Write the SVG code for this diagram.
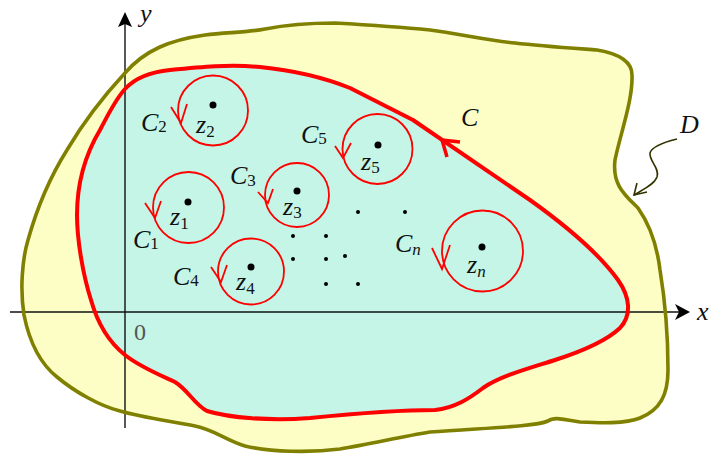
<svg xmlns="http://www.w3.org/2000/svg" xmlns:xlink="http://www.w3.org/1999/xlink" width="709" height="455" viewBox="0 0 709 455">
<style>
  .lbl { font-family: "Liberation Serif", "Times New Roman", serif; font-style: italic; font-size: 26px; fill: #111; }
  .sub { font-size: 17px; font-style: normal; }
  .subi { font-size: 17px; font-style: italic; }
  .small { fill: none; stroke: #ff0000; stroke-width: 1.8; }
  .vee { fill: none; stroke: #ff0000; stroke-width: 1.8; stroke-linejoin: miter; }
  .dot { fill: #000; }
  .axis { stroke: #111; stroke-width: 1.4; fill: none; }
</style>
<defs>
  <path id="pD" d="M 125 73 C 145 50, 170 40, 205 35 C 225 32, 245 33, 265 29 C 290 24, 310 23, 335 23 C 370 25, 400 27, 430 30 C 460 34, 490 41, 515 43 C 540 46, 570 48, 597 50 C 615 53, 632 60, 632 75 C 633 100, 620 135, 615 160 C 612 185, 625 195, 638 208 C 650 225, 657 245, 660 270 C 665 300, 668 340, 668 370 C 668 395, 660 410, 640 418 C 625 424, 600 423, 580 422 C 565 420, 555 416, 548 421 C 535 427, 480 428, 430 432 C 400 437, 370 444, 340 449 C 310 453, 270 452, 245 446 C 225 440, 215 430, 195 426 C 170 421, 140 417, 120 411 C 100 406, 75 392, 57 377 C 42 365, 30 345, 24 315 C 20 290, 22 260, 28 240 C 35 215, 45 185, 67 150 C 80 128, 100 100, 125 73 Z"/>
  <path id="pC" d="M 125 89 C 135 78, 150 72, 170 70 C 200 67, 230 64, 260 67 C 290 70, 320 76, 350 88 L 413 120 L 530 200 C 565 225, 600 255, 618 280 C 630 297, 632 315, 620 328 C 605 342, 580 352, 555 360 C 530 368, 500 376, 483 388 C 470 398, 455 408, 435 410 C 400 410, 360 413, 310 418 C 270 421, 230 418, 207 411 C 195 405, 188 390, 175 382 C 160 375, 140 367, 125 355 C 110 343, 98 325, 91 300 C 83 275, 77 240, 77 215 C 77 185, 85 155, 100 130 C 108 115, 115 100, 125 89 Z"/>
</defs>

<g id="region-D-fill"><use xlink:href="#pD" fill="#fdfdc6"/></g>
<g id="region-C-fill"><use xlink:href="#pC" fill="#c4f5e6"/></g>

<g id="axes">
  <line class="axis" x1="125" y1="428" x2="125" y2="24"/>
  <path d="M125 12 L132 27 L125 24 L118 27 Z" fill="#000"/>
  <line class="axis" x1="10" y1="312" x2="680" y2="312"/>
  <path d="M690 312 L675 320 L679 312 L675 304 Z" fill="#000"/>
  <text class="lbl" x="140" y="22">y</text>
  <text class="lbl" x="697" y="320">x</text>
  <text x="134" y="340" font-family="Liberation Serif, serif" font-size="24" fill="#555">0</text>
</g>

<g id="D">
  <use xlink:href="#pD" fill="none" stroke="#808000" stroke-width="3.6" stroke-linejoin="round"/>
  <text class="lbl" x="680" y="133">D</text>
  <path d="M 677 139 C 665 142, 652 146, 650 153 C 649 161, 660 168, 657 177 C 654 185, 642 190, 634 195" fill="none" stroke="#333300" stroke-width="1.6"/>
  <polyline points="637,183 634,195 647,192" fill="none" stroke="#333300" stroke-width="1.6"/>
</g>

<g id="C">
  <use xlink:href="#pC" fill="none" stroke="#ff0000" stroke-width="4" stroke-linejoin="round"/>
  <polyline points="460,142 442,140 447,157" fill="none" stroke="#ff0000" stroke-width="3.5" stroke-linejoin="miter"/>
  <text class="lbl" x="461" y="126">C</text>
</g>

<g id="C1">
  <circle class="small" cx="188.5" cy="207.5" r="35.5"/>
  <polyline class="vee" points="145,203 155,218 161,201"/>
  <circle class="dot" cx="188" cy="202" r="3.5"/>
  <text class="lbl" x="170" y="225">z<tspan class="sub" dy="4">1</tspan></text>
  <text class="lbl" x="133" y="248">C<tspan class="sub" dy="1">1</tspan></text>
</g>

<g id="C2">
  <circle class="small" cx="213" cy="110.5" r="35"/>
  <polyline class="vee" points="171,107 181,123 187,104"/>
  <circle class="dot" cx="213" cy="105" r="3.5"/>
  <text class="lbl" x="196" y="133">z<tspan class="sub" dy="4">2</tspan></text>
  <text class="lbl" x="141" y="131">C<tspan class="sub" dy="1">2</tspan></text>
</g>

<g id="C3">
  <circle class="small" cx="297" cy="195" r="32"/>
  <polyline class="vee" points="258,192 268,203 273,189"/>
  <circle class="dot" cx="297" cy="191" r="3.5"/>
  <text class="lbl" x="283" y="215">z<tspan class="sub" dy="3">3</tspan></text>
  <text class="lbl" x="230" y="184">C<tspan class="sub" dy="2">3</tspan></text>
</g>

<g id="C4">
  <circle class="small" cx="251" cy="271.5" r="33"/>
  <polyline class="vee" points="211,267 221,282 227,265"/>
  <circle class="dot" cx="251" cy="267" r="3.5"/>
  <text class="lbl" x="236" y="290">z<tspan class="sub" dy="4">4</tspan></text>
  <text class="lbl" x="173" y="285">C<tspan class="sub" dy="1">4</tspan></text>
</g>

<g id="C5">
  <circle class="small" cx="377.5" cy="149" r="35"/>
  <polyline class="vee" points="335,146 343,158 351,143"/>
  <circle class="dot" cx="378" cy="145" r="3.5"/>
  <text class="lbl" x="361" y="170">z<tspan class="sub" dy="3">5</tspan></text>
  <text class="lbl" x="301" y="143">C<tspan class="sub" dy="1">5</tspan></text>
</g>

<g id="Cn">
  <circle class="small" cx="482.5" cy="251" r="40.5"/>
  <polyline class="vee" points="432,248 442,269 450,245"/>
  <circle class="dot" cx="482" cy="247" r="3.5"/>
  <text class="lbl" x="467" y="273">z<tspan class="subi" dy="4">n</tspan></text>
  <text class="lbl" x="395" y="252">C<tspan class="subi" dy="3">n</tspan></text>
</g>

<g id="dots">
  <circle class="dot" cx="358" cy="212" r="2"/>
  <circle class="dot" cx="405" cy="212" r="2"/>
  <circle class="dot" cx="293" cy="236" r="2"/>
  <circle class="dot" cx="326" cy="236" r="2"/>
  <circle class="dot" cx="293" cy="259" r="2"/>
  <circle class="dot" cx="326" cy="259" r="2"/>
  <circle class="dot" cx="345" cy="256" r="2"/>
  <circle class="dot" cx="326" cy="284" r="2"/>
  <circle class="dot" cx="358" cy="284" r="2"/>
</g>
</svg>
